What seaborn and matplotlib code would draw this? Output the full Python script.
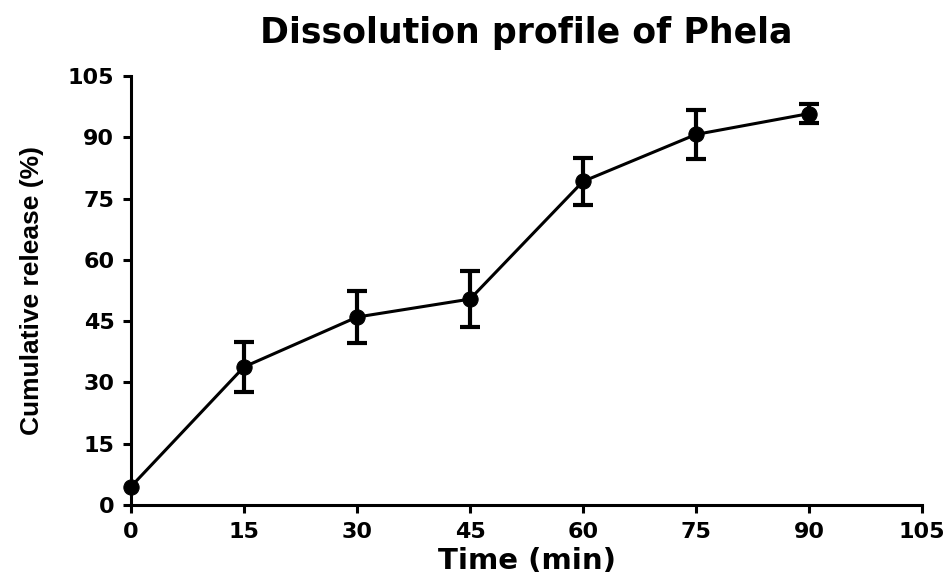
import matplotlib
matplotlib.use("Agg")
import matplotlib.pyplot as plt
import numpy as np
import pandas as pd
import seaborn as sns

# values
time_min = [0, 15, 30, 45, 60, 75, 90]
release_pct = [4.5, 33.8, 46.0, 50.4, 79.2, 90.7, 95.8]
release_sd = [0.0, 6.2, 6.3, 6.9, 5.7, 5.9, 2.3]
tick_values = [0, 15, 30, 45, 60, 75, 90, 105]

sns.set_style("ticks")
plt.rcParams["font.family"] = ["DejaVu Sans"]
plt.rcParams["font.weight"] = "bold"
plt.rcParams["text.color"] = "black"
plt.rcParams["axes.labelcolor"] = "black"
plt.rcParams["xtick.color"] = "black"
plt.rcParams["ytick.color"] = "black"

df = pd.DataFrame({"time": time_min, "release": release_pct, "sd": release_sd})

fig = plt.figure(figsize=(9.52, 5.79), dpi=100)
ax = fig.add_axes([0.1376, 0.1278, 0.9685 - 0.1376, 0.8687 - 0.1278])

sns.lineplot(data=df, x="time", y="release", ax=ax, color="black", linewidth=2.2,
             marker="o", markersize=11, markeredgecolor="black", clip_on=False, zorder=3)
# no visible bar at t=0, so only draw the ones with a spread
bars = df[df["sd"] > 0]
ax.errorbar(bars["time"], bars["release"], yerr=bars["sd"], fmt="none", ecolor="black",
            elinewidth=3, capsize=7, capthick=3, clip_on=False, zorder=3)

ax.set_xlim(0, 105)
ax.set_ylim(0, 105)
ax.set_xticks(tick_values)
ax.set_yticks(tick_values)
ax.tick_params(axis="both", length=6, width=2.2, labelsize=16, pad=6, color="black",
               labelcolor="black")
for lab in ax.get_xticklabels() + ax.get_yticklabels():
    lab.set_fontweight("bold")

sns.despine(ax=ax)
for side in ["left", "bottom"]:
    ax.spines[side].set_linewidth(2.2)
    ax.spines[side].set_color("black")

ax.set_xlabel("Time (min)", fontsize=21, fontweight="bold", color="black", labelpad=4)
ax.set_ylabel("Cumulative release (%)", fontsize=19, fontweight="bold", color="black",
              family=["Liberation Sans", "DejaVu Sans"], labelpad=17)
ax.set_title("Dissolution profile of Phela", fontsize=25, fontweight="bold",
             color="black", pad=24)

fig.savefig("out.png", dpi=100)
